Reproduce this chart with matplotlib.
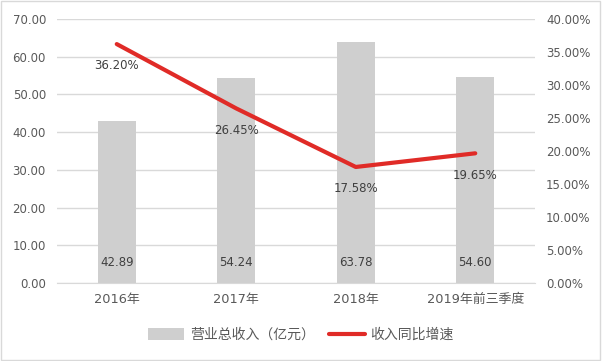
import matplotlib
matplotlib.use("Agg")
import matplotlib.pyplot as plt
from matplotlib.ticker import FuncFormatter, MultipleLocator
from matplotlib.patches import Rectangle

plt.rcParams['font.family'] = ['DejaVu Sans', 'Noto Sans CJK SC']

categories = ["2016年", "2017年", "2018年", "2019年前三季度"]
revenue = [42.89, 54.24, 63.78, 54.60]
growth = [36.20, 26.45, 17.58, 19.65]
bar_label = "营业总收入（亿元）"
line_label = "收入同比增速"

txt = "#595959"
fig = plt.figure(figsize=(6.02, 3.61), dpi=100)
ax = fig.add_axes([57/602, 1-283/361, 478/602, 264/361])
ax2 = ax.twinx()

x = list(range(len(categories)))
bars = ax.bar(x, revenue, width=0.32, color="#cfcfcf", zorder=2, label=bar_label)
ax.set_xlim(-0.5, len(categories) - 0.5)
ax.set_ylim(0, 70)
ax.yaxis.set_major_locator(MultipleLocator(10))
ax.yaxis.set_major_formatter(FuncFormatter(lambda v, p: f"{v:.2f}"))
ax.grid(axis='y', color="#d9d9d9", linewidth=1, zorder=0)
ax.set_axisbelow(True)
ax.set_xticks(x)
ax.set_xticklabels(categories)
for s in ["top", "left", "right"]:
    ax.spines[s].set_visible(False)
    ax2.spines[s].set_visible(False)
ax.spines["bottom"].set_color("#d9d9d9")
ax2.spines["bottom"].set_visible(False)
ax.tick_params(axis='y', length=0, colors=txt, labelsize=8.5, pad=8)
ax.tick_params(axis='x', length=0, colors=txt, labelsize=9.3, pad=7)

for xi, v in zip(x, revenue):
    ax.annotate(f"{v:.2f}", (xi, 0), xytext=(0, 10), textcoords="offset points",
                ha="center", va="bottom", fontsize=8.5, color="#404040", zorder=5)

line, = ax2.plot(x, [g / 100 for g in growth], color="#e02b27", linewidth=3,
                 solid_capstyle="round", zorder=4, label=line_label)
ax2.set_ylim(0, 0.40)
ax2.yaxis.set_major_locator(MultipleLocator(0.05))
ax2.yaxis.set_major_formatter(FuncFormatter(lambda v, p: f"{v*100:.2f}%"))
ax2.tick_params(axis='y', length=0, colors=txt, labelsize=8.5, pad=8)
for xi, g in zip(x, growth):
    ax2.annotate(f"{g:.2f}%", (xi, g / 100), xytext=(0, -11), textcoords="offset points",
                 ha="center", va="top", fontsize=8.5, color="#404040", zorder=5)

leg = fig.legend([bars, line], [bar_label, line_label], loc="center",
                 bbox_to_anchor=(0.5, 1 - 335/361), ncol=2, frameon=False,
                 prop={'family': ['Noto Sans CJK SC'], 'size': 10},
                 labelcolor=txt, handlelength=2.6, handleheight=0.9,
                 columnspacing=1.0, handletextpad=0.4)

fig.patches.append(Rectangle((0.002, 0.003), 0.995, 0.994, transform=fig.transFigure,
                             fill=False, edgecolor="#d9d9d9", linewidth=1))
fig.savefig("out.png", dpi=100)
